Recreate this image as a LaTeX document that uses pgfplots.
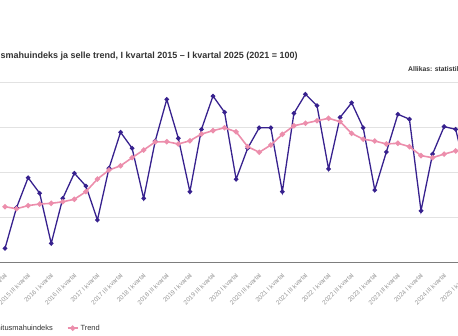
\documentclass[border=0pt]{standalone}
\usepackage{pgfplots}
\pgfplotsset{compat=1.18}
\usepackage{pgfplotstable}
\usepackage{fontspec}
\setmainfont{Liberation Sans}
\definecolor{indexblue}{RGB}{55,33,142}
\definecolor{trendpink}{RGB}{236,142,172}
\definecolor{ticktext}{RGB}{150,150,150}
\definecolor{gridgray}{RGB}{226,226,226}
\definecolor{basegray}{RGB}{125,125,125}
\definecolor{textdark}{RGB}{51,51,51}

\pgfplotstableread{
i v
1 46.2
2 64.3
3 77.6
4 70.7
5 48.4
6 68.4
7 79.6
8 73.9
9 58.8
10 81.8
11 97.8
12 90.7
13 68.4
14 93.9
15 112.4
16 95.1
17 71.4
18 99.1
19 113.9
20 106.7
21 76.9
22 90.7
23 99.8
24 99.8
25 71.4
26 106.2
27 114.7
28 109.6
29 81.5
30 104.4
31 110.9
32 99.8
33 72.1
34 89.0
35 105.8
36 103.6
37 62.9
38 88.1
39 100.3
40 99.1
41 78.0
}\indextable

\pgfplotstableread{
i v
1 64.7
2 63.8
3 65.2
4 65.9
5 66.2
6 66.9
7 68.0
8 71.4
9 77.0
10 81.0
11 82.9
12 86.5
13 89.9
14 93.5
15 93.6
16 92.6
17 94.0
18 97.0
19 98.5
20 99.8
21 98.0
22 91.4
23 88.9
24 92.1
25 96.9
26 100.7
27 101.8
28 102.9
29 104.0
30 102.5
31 97.3
32 94.7
33 93.9
34 92.6
35 92.9
36 91.4
37 87.4
38 86.5
39 88.1
40 89.5
41 90.8
}\trendtable

\begin{document}
\begin{tikzpicture}[x=1pt,y=1pt]
\useasboundingbox (0,0) rectangle (458,336);
\begin{scope}
\clip (0,0) rectangle (458,336);
\begin{axis}[
  at={(-10pt,73.7pt)}, anchor=south west,
  scale only axis, width=480pt, height=180pt,
  xmin=-0.298, xmax=41.24,
  ymin=40, ymax=120,
  ytick={40,60,80,100,120},
  yticklabels={},
  xtick={1,3,...,41},
  xticklabels={2015 I kvartal,2015 III kvartal,2016 I kvartal,2016 III kvartal,2017 I kvartal,2017 III kvartal,2018 I kvartal,2018 III kvartal,2019 I kvartal,2019 III kvartal,2020 I kvartal,2020 III kvartal,2021 I kvartal,2021 III kvartal,2022 I kvartal,2022 III kvartal,2023 I kvartal,2023 III kvartal,2024 I kvartal,2024 III kvartal,2025 I kvartal},
  x tick label style={font=\fontsize{6.3}{7}\selectfont, text=ticktext, yshift=-12pt, xshift=1pt, rotate=45, anchor=east, inner sep=0pt},
  major tick length=0pt,
  axis x line=bottom, axis y line=left,
  y axis line style={draw=none},
  x axis line style={draw=basegray, line width=0.9pt, -},
  ymajorgrids, grid style={draw=gridgray, line width=0.7pt},
  clip=false,
  legend columns=2,
  legend cell align=left,
  legend style={at={(axis description cs:-0.031,-0.366)}, anchor=west, draw=none, fill=none,
    font=\fontsize{7.5}{9}\selectfont, text=textdark,
    /tikz/every even column/.append style={column sep=12pt}},
  legend image code/.code={\draw[#1, mark repeat=2, mark phase=2] plot coordinates {(0pt,0pt) (5pt,0pt) (10pt,0pt)};},
]
\addplot[color=indexblue, line width=1.3pt, mark=*, mark size=1.6pt, mark options={fill=indexblue, draw=indexblue}] table[x=i,y=v] {\indextable};
\addlegendentry{Ehitusmahuindeks}
\addplot[color=trendpink, line width=1.6pt, mark=*, mark size=1.8pt, mark options={fill=trendpink, draw=trendpink}] table[x=i,y=v] {\trendtable};
\addlegendentry{Trend}
\end{axis}
\node[anchor=base west, font=\bfseries\fontsize{9}{11}\selectfont, text=textdark, inner sep=0pt] at (-22,277) {Ehitusmahuindeks ja selle trend, I kvartal 2015 – I kvartal 2025 (2021 = 100)};
\node[anchor=base west, font=\bfseries\fontsize{6.8}{8}\selectfont, text=textdark, inner sep=0pt] at (408,264.5) {Allikas: statistikaamet};
\end{scope}
\end{tikzpicture}
\end{document}
